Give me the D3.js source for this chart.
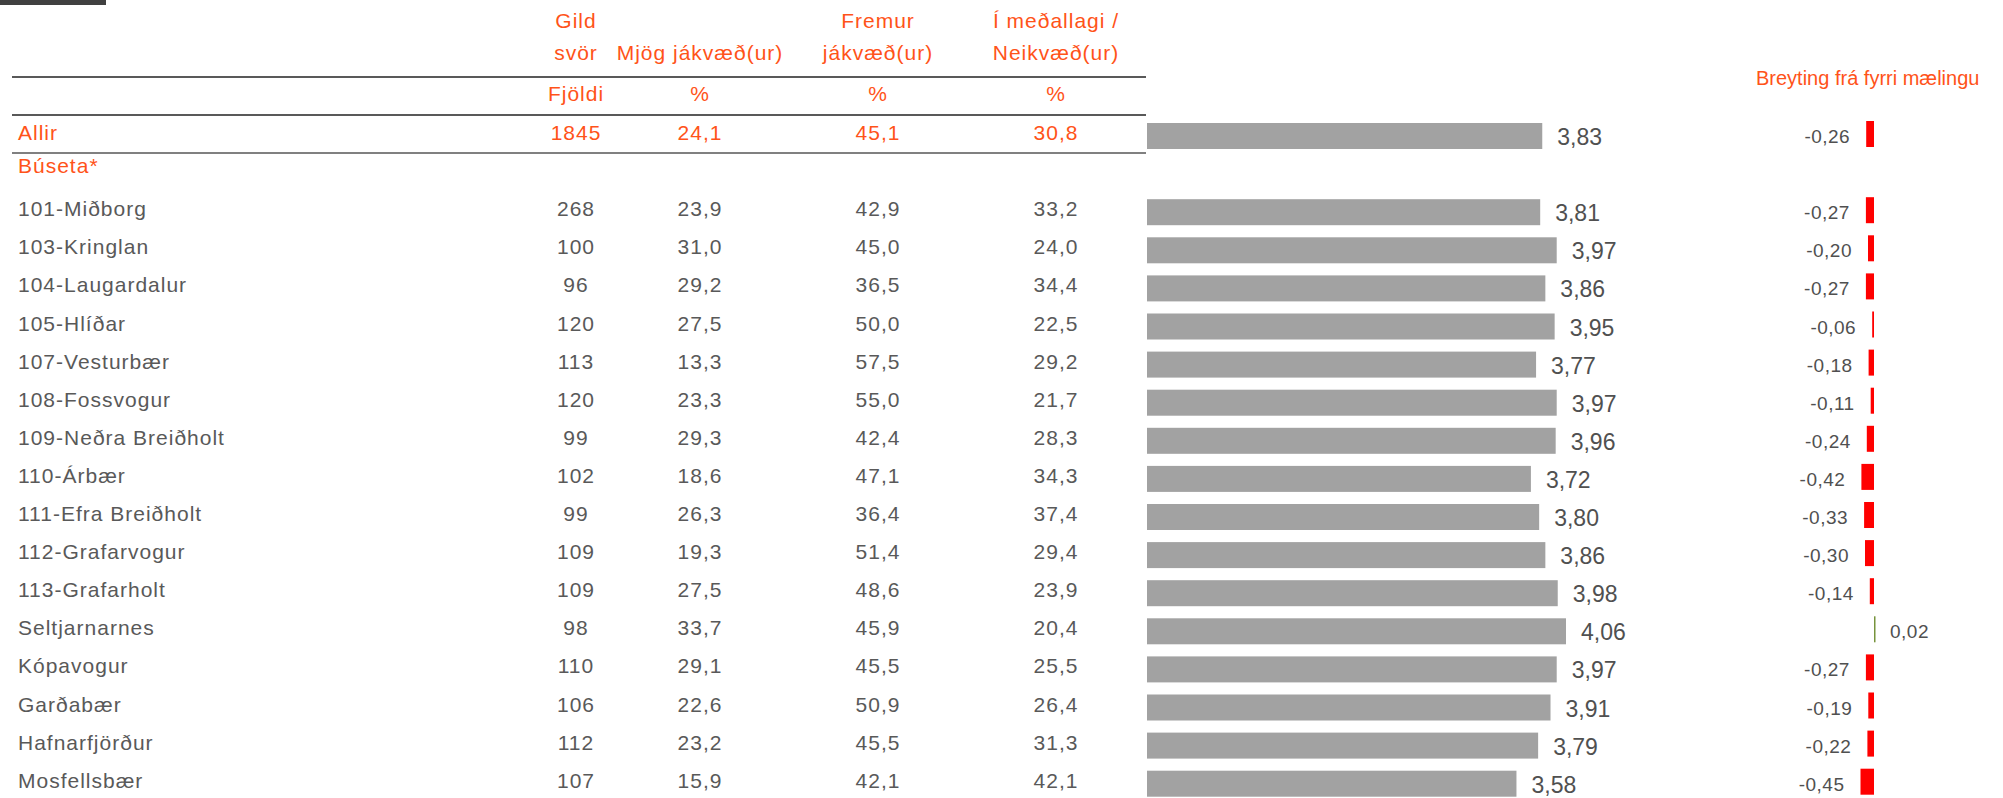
<!DOCTYPE html>
<html>
<head>
<meta charset="utf-8">
<title>Búseta</title>
<script src="https://cdn.jsdelivr.net/npm/d3@7"></script>
<style>
body { margin: 0; background: #fff; }
svg { font-family: "Liberation Sans", Arial, sans-serif; display: block; }
.tbl { font-size: 21px; letter-spacing: 1px; }
.orange { fill: #ff5319; }
.grey { fill: #595959; }
</style>
</head>
<body>
<div id="chart"></div>
<script>
// rows of the table (Allir first, then group header, then places)
var categories = ["Allir", "101-Miðborg", "103-Kringlan", "104-Laugardalur", "105-Hlíðar",
  "107-Vesturbær", "108-Fossvogur", "109-Neðra Breiðholt", "110-Árbær", "111-Efra Breiðholt",
  "112-Grafarvogur", "113-Grafarholt", "Seltjarnarnes", "Kópavogur", "Garðabær",
  "Hafnarfjörður", "Mosfellsbær"];
var fjoldi    = [1845, 268, 100, 96, 120, 113, 120, 99, 102, 99, 109, 109, 98, 110, 106, 112, 107];
var mjogJak   = [24.1, 23.9, 31.0, 29.2, 27.5, 13.3, 23.3, 29.3, 18.6, 26.3, 19.3, 27.5, 33.7, 29.1, 22.6, 23.2, 15.9];
var fremurJak = [45.1, 42.9, 45.0, 36.5, 50.0, 57.5, 55.0, 42.4, 47.1, 36.4, 51.4, 48.6, 45.9, 45.5, 50.9, 45.5, 42.1];
var medalNei  = [30.8, 33.2, 24.0, 34.4, 22.5, 29.2, 21.7, 28.3, 34.3, 37.4, 29.4, 23.9, 20.4, 25.5, 26.4, 31.3, 42.1];
var medaltal  = [3.83, 3.81, 3.97, 3.86, 3.95, 3.77, 3.97, 3.96, 3.72, 3.80, 3.86, 3.98, 4.06, 3.97, 3.91, 3.79, 3.58];
var breyting  = [-0.26, -0.27, -0.20, -0.27, -0.06, -0.18, -0.11, -0.24, -0.42, -0.33, -0.30, -0.14, 0.02, -0.27, -0.19, -0.22, -0.45];

var groupLabel = "Búseta*";
var headers = [
  {lines: ["Gild", "svör"], unit: "Fjöldi"},
  {lines: ["", "Mjög jákvæð(ur)"], unit: "%"},
  {lines: ["Fremur", "jákvæð(ur)"], unit: "%"},
  {lines: ["Í meðallagi /", "Neikvæð(ur)"], unit: "%"}
];
var changeTitle = "Breyting frá fyrri mælingu";

var width = 2003, height = 798;

var is = d3.formatLocale({decimal: ",", thousands: ".", grouping: [3], currency: ["", " kr."], minus: "-"});
var f1 = is.format(".1f"), f2 = is.format(".2f"), f0 = is.format("d");

var rowKeys = [categories[0], groupLabel].concat(categories.slice(1));
var y = d3.scalePoint().domain(rowKeys).range([136, 783.7]);

var colX = [576, 700, 878, 1056];
var x = d3.scaleLinear().domain([0, 5]).range([1147, 1663]);
var xc = d3.scaleLinear().domain([-1, 1]).range([1844, 1904]);

var data = categories.map(function(c, i) {
  return {name: c, n: fjoldi[i], v: [mjogJak[i], fremurJak[i], medalNei[i]], mean: medaltal[i], diff: breyting[i], first: i === 0};
});

var svg = d3.select("#chart").append("svg")
  .attr("width", width)
  .attr("height", height);

// small dark tab top-left
svg.append("rect").attr("x", 0).attr("y", 0).attr("width", 106).attr("height", 5).attr("fill", "#404040");

// header
var hg = svg.append("g").attr("class", "tbl orange").attr("text-anchor", "middle");
headers.forEach(function(h, i) {
  hg.append("text").attr("x", colX[i]).attr("y", 28).text(h.lines[0]);
  hg.append("text").attr("x", colX[i]).attr("y", 60).text(h.lines[1]);
  hg.append("text").attr("x", colX[i]).attr("y", 101).text(h.unit);
});

svg.append("text")
  .attr("x", 1756).attr("y", 85)
  .attr("class", "orange")
  .style("font-size", "20px")
  .text(changeTitle);

// rules
svg.append("line").attr("x1", 12).attr("x2", 1146).attr("y1", 77).attr("y2", 77).attr("stroke", "#595959").attr("stroke-width", 2);
svg.append("line").attr("x1", 12).attr("x2", 1146).attr("y1", 115).attr("y2", 115).attr("stroke", "#595959").attr("stroke-width", 2);
svg.append("line").attr("x1", 12).attr("x2", 1146).attr("y1", 153).attr("y2", 153).attr("stroke", "#808080").attr("stroke-width", 2);

svg.append("text")
  .attr("class", "tbl orange")
  .attr("x", 18).attr("y", y(groupLabel) - 1)
  .text(groupLabel);

var rows = svg.selectAll("g.row")
  .data(data)
  .enter().append("g")
  .attr("class", "row")
  .attr("transform", function(d) { return "translate(0," + y(d.name) + ")"; });

rows.append("text")
  .attr("class", function(d) { return "tbl " + (d.first ? "orange" : "grey"); })
  .attr("x", 18).attr("y", 4)
  .text(function(d) { return d.name; });

rows.append("text")
  .attr("class", function(d) { return "tbl " + (d.first ? "orange" : "grey"); })
  .attr("text-anchor", "middle")
  .attr("x", colX[0]).attr("y", 4)
  .text(function(d) { return f0(d.n); });

[0, 1, 2].forEach(function(k) {
  rows.append("text")
    .attr("class", function(d) { return "tbl " + (d.first ? "orange" : "grey"); })
    .attr("text-anchor", "middle")
    .attr("x", colX[k + 1]).attr("y", 4)
    .text(function(d) { return f1(d.v[k]); });
});

// mean bars
rows.append("rect")
  .attr("x", x(0))
  .attr("y", -13)
  .attr("width", function(d) { return x(d.mean) - x(0); })
  .attr("height", 26)
  .attr("fill", "#a2a2a2");

rows.append("text")
  .attr("x", function(d) { return x(d.mean) + 15; })
  .attr("y", 9)
  .style("font-size", "23px")
  .attr("fill", "#505050")
  .text(function(d) { return f2(d.mean); });

// change bars
rows.append("rect")
  .attr("x", function(d) { return Math.min(xc(0), xc(d.diff)); })
  .attr("y", -15)
  .attr("width", function(d) { return Math.max(1.5, Math.abs(xc(d.diff) - xc(0))); })
  .attr("height", 26)
  .attr("fill", function(d) { return d.diff < 0 ? "#ff0000" : "#77933c"; });

rows.append("text")
  .attr("x", function(d) { return d.diff < 0 ? xc(d.diff) - 16 : xc(0) + 16; })
  .attr("y", 7)
  .attr("text-anchor", function(d) { return d.diff < 0 ? "end" : "start"; })
  .style("font-size", "19px")
  .style("letter-spacing", "0.5px")
  .attr("fill", "#505050")
  .text(function(d) { return f2(d.diff); });
</script>
</body>
</html>
